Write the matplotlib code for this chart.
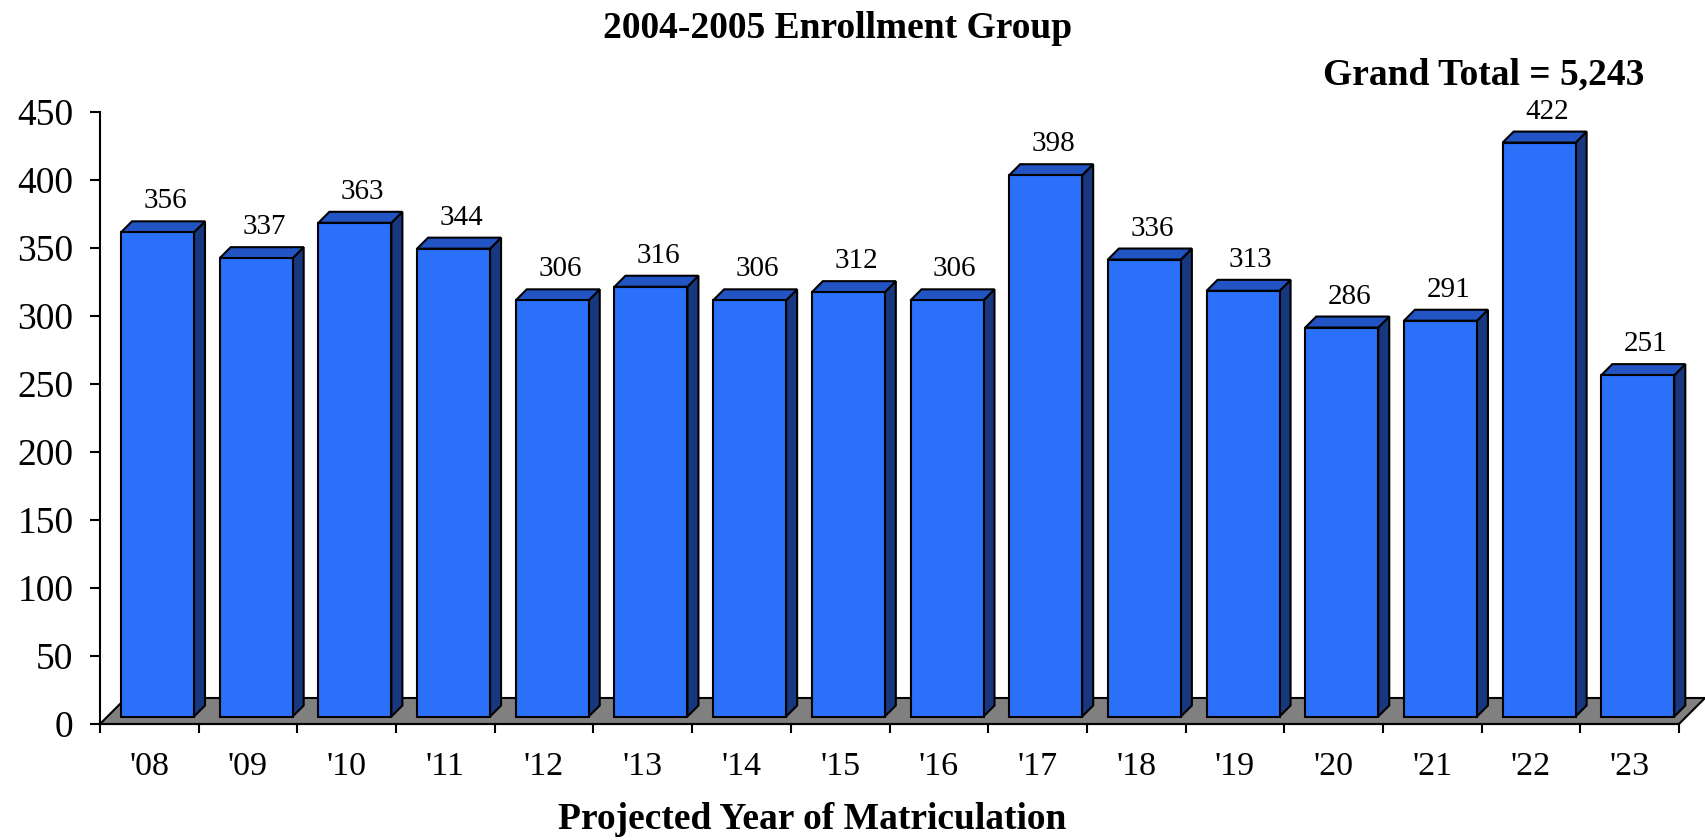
import matplotlib
matplotlib.use("Agg")
import matplotlib.pyplot as plt
from matplotlib.patches import Polygon, Rectangle

plt.rcParams['font.family'] = ['Liberation Serif', 'DejaVu Serif']

categories = ["'08", "'09", "'10", "'11", "'12", "'13", "'14", "'15",
              "'16", "'17", "'18", "'19", "'20", "'21", "'22", "'23"]
values = [356, 337, 363, 344, 306, 316, 306, 312, 306, 398, 336, 313, 286, 291, 422, 251]
title = "2004-2005 Enrollment Group"
total_text = "Grand Total = 5,243"
xlabel = "Projected Year of Matriculation"
yticks = [0, 50, 100, 150, 200, 250, 300, 350, 400, 450]

W, H = 1705, 840
fig = plt.figure(figsize=(W / 100, H / 100), dpi=100)
ax_l, ax_r, ax_b, ax_t = 100, 1679, 724, 112
ax = fig.add_axes([ax_l / W, (H - ax_b) / H, (ax_r - ax_l) / W, (ax_b - ax_t) / H])
n = len(categories)
ax.set_xlim(0, n)
ax.set_ylim(0, 450)

ux = (ax_r - ax_l) / n       # px per x unit
uy = (ax_b - ax_t) / 450.0   # px per y unit

front_c = '#2B70F9'
top_c = '#2354C4'
side_c = '#17387F'
floor_c = '#808080'

# floor
fdx, fdy = 26 / ux, 26 / uy
floor = Polygon([(0, 0), (n, 0), (n + fdx, fdy), (fdx, fdy)], closed=True,
                facecolor=floor_c, edgecolor='black', linewidth=1.5,
                clip_on=False, zorder=1)
ax.add_patch(floor)

# bars
bdx, bdy = 7.5 / ux, 7.5 / uy      # bar front depth
sdx, sdy = 11 / ux, 11 / uy        # bar depth
inset = 13.5 / ux
bw = 73 / ux
for i, v in enumerate(values):
    xl = i + bdx + inset
    y0 = bdy
    y1 = bdy + v
    side = Polygon([(xl + bw, y0), (xl + bw + sdx, y0 + sdy),
                    (xl + bw + sdx, y1 + sdy), (xl + bw, y1)], closed=True,
                   facecolor=side_c, edgecolor='black', linewidth=1.5,
                   joinstyle='miter', clip_on=False, zorder=3)
    top = Polygon([(xl, y1), (xl + bw, y1), (xl + bw + sdx, y1 + sdy),
                   (xl + sdx, y1 + sdy)], closed=True,
                  facecolor=top_c, edgecolor='black', linewidth=1.5,
                  joinstyle='miter', clip_on=False, zorder=3)
    front = Rectangle((xl, y0), bw, v, facecolor=front_c, edgecolor='black',
                      linewidth=1.5, joinstyle='miter', clip_on=False, zorder=4)
    ax.add_patch(side)
    ax.add_patch(top)
    ax.add_patch(front)
    ax.text(xl + bw / 2 + sdx * 0.7, y1 + sdy + 13 / uy, f"{v}",
            ha='center', va='baseline', fontsize=21, zorder=5)

# axes styling
for s in ['top', 'right']:
    ax.spines[s].set_visible(False)
ax.spines['left'].set_linewidth(1.5)
ax.spines['bottom'].set_linewidth(1.5)
ax.spines['bottom'].set_zorder(2)
ax.set_yticks(yticks)
ax.set_yticklabels([str(t) for t in yticks])
ax.tick_params(axis='y', direction='out', length=7, width=1.5, pad=12, labelsize=27)
ax.set_xticks([i + 0.5 for i in range(n)])
ax.set_xticklabels(categories)
ax.set_xticks(range(n + 1), minor=True)
ax.tick_params(axis='x', which='major', length=0, pad=20, labelsize=24.5)
ax.tick_params(axis='x', which='minor', direction='out', length=6.5, width=1.5)
ax.patch.set_alpha(0)

fig.text(838 / W, 1 - 38 / H, title, ha='center', va='baseline',
         fontsize=27, fontweight='bold')
fig.text(1644 / W, 1 - 84 / H, total_text, ha='right', va='baseline',
         fontsize=27, fontweight='bold')
fig.text(812 / W, 1 - 829 / H, xlabel, ha='center', va='baseline',
         fontsize=27, fontweight='bold')

fig.savefig('out.png', dpi=100)
